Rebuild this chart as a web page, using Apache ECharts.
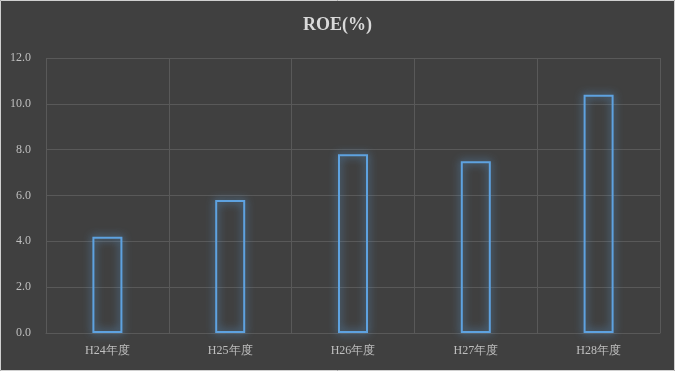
<!DOCTYPE html>
<html><head><meta charset="utf-8">
<script src="https://cdn.jsdelivr.net/npm/echarts@6/dist/echarts.min.js"></script>
<style>html,body{margin:0;padding:0;background:#404040;}#c{width:675px;height:371px;}</style>
</head><body><div id="c"></div>
<script>
const categories = ['H24年度','H25年度','H26年度','H27年度','H28年度'];
const roeValues = [4.2, 5.8, 7.8, 7.5, 10.4];
const chart = echarts.init(document.getElementById('c'));
chart.setOption({
  backgroundColor: '#404040',
  animation: false,
  title: {
    text: 'ROE(%)', left: 'center', top: 11,
    textStyle: {fontFamily: 'Liberation Serif', fontWeight: 'bold', fontSize: 18, color: '#d9d9d9'}
  },
  graphic: [{
    type: 'rect', shape: {x: 0.5, y: 0.5, width: 674, height: 370},
    style: {fill: 'none', stroke: '#d0d0d0', lineWidth: 1}, silent: true
  }],
  grid: {left: 46, right: 15, top: 58, bottom: 38},
  xAxis: {
    type: 'category', data: categories,
    axisLine: {show: true, lineStyle: {color: '#595959'}},
    axisTick: {show: false},
    axisLabel: {fontFamily: 'Liberation Serif', fontSize: 12, color: '#bfbfbf', margin: 12},
    splitLine: {show: true, lineStyle: {color: '#595959', width: 1}}
  },
  yAxis: {
    type: 'value', min: 0, max: 12, interval: 2,
    axisLine: {show: false}, axisTick: {show: false},
    axisLabel: {fontFamily: 'Liberation Serif', fontSize: 12, color: '#bfbfbf', margin: 15,
      formatter: v => v.toFixed(1)},
    splitLine: {lineStyle: {color: '#595959', width: 1}}
  },
  series: [{
    type: 'bar', data: roeValues, barWidth: 30,
    itemStyle: {color: 'rgba(0,0,0,0)', borderColor: '#5ea2e0', borderWidth: 2,
      shadowColor: 'rgba(91,155,213,1)', shadowBlur: 8}
  }]
});
</script></body></html>
